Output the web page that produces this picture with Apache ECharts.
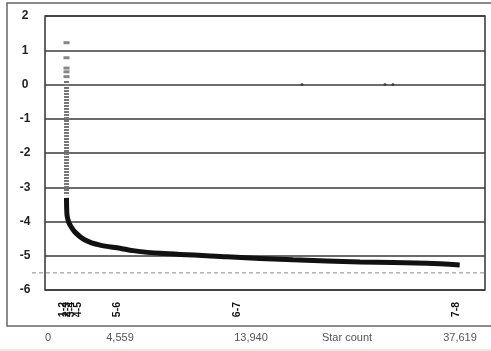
<!DOCTYPE html>
<html><head><meta charset="utf-8">
<script src="https://cdn.jsdelivr.net/npm/echarts@6/dist/echarts.min.js"></script>
<style>html,body{margin:0;padding:0;background:#fff}#c{width:491px;height:351px}</style>
</head><body><div id="c"></div>
<script>
// x unit: star rank position (0..40000 across the plot)
const curveX = [1955, 2000, 2136, 2273, 2727, 3636, 5000, 6818, 8000, 10455, 16545, 22545, 28636, 34727, 37700];
const curveY = [-3.31, -3.81, -4.0, -4.10, -4.31, -4.54, -4.69, -4.78, -4.85, -4.93, -5.03, -5.12, -5.18, -5.22, -5.27];
const sparseX = [1955, 1955, 1955, 1955, 1955];
const sparseY = [1.22, 0.78, 0.48, 0.37, 0.23];
const denseX = [1955, 1955];
const denseY = [0.10, -3.23];
const dotX = [23364, 30909, 31636];
const dotY = [0, 0, 0];
const refLineY = -5.5;
const binLabels = ['0-1', '1-2', '2-3', '3-4', '4-5', '5-6', '6-7', '7-8'];
const binPos = [1273, 1636, 2000, 2364, 3000, 6545, 17455, 37364];
const countLabels = ['0', '4,559', '13,940', 'Star count', '37,619'];
const countPos = [273, 6818, 18727, 27455, 37727];
const yTicks = [-6, -5, -4, -3, -2, -1, 0, 1, 2];

const zip = (a, b) => a.map((v, i) => [v, b[i]]);
const chart = echarts.init(document.getElementById('c'));
const F = 'Liberation Sans, Arial, sans-serif';
chart.setOption({
  animation: false,
  backgroundColor: '#fff',
  graphic: [
    { type: 'rect', shape: { x: 7, y: 3, width: 492, height: 323 }, style: { fill: 'none', stroke: '#666', lineWidth: 1.5 }, z: -1 },
    { type: 'line', shape: { x1: 0, y1: 350, x2: 491, y2: 350 }, style: { stroke: '#f2c4c4', lineWidth: 1 } }
  ],
  grid: [
    { left: 45, right: 6, top: 16, bottom: 61, show: true, borderColor: '#333', borderWidth: 1.5, backgroundColor: 'transparent' },
    { left: 32, right: 6, top: 16, bottom: 61 }
  ],
  xAxis: [
    { gridIndex: 0, type: 'value', min: 0, max: 40000,
      axisLine: { show: false }, axisTick: { show: false }, splitLine: { show: false },
      axisLabel: { customValues: binPos, rotate: 90, margin: 12, hideOverlap: false,
        fontFamily: F, fontSize: 10.5, fontWeight: 'bold', color: '#111',
        formatter: v => binLabels[binPos.indexOf(v)] } },
    { gridIndex: 0, type: 'value', min: 0, max: 40000, position: 'bottom',
      axisLine: { show: false }, axisTick: { show: false }, splitLine: { show: false },
      axisLabel: { customValues: countPos, margin: 42, hideOverlap: false,
        fontFamily: F, fontSize: 11, color: '#555',
        formatter: v => countLabels[countPos.indexOf(v)] } },
    { gridIndex: 1, type: 'value', min: 0, max: 1, show: false }
  ],
  yAxis: [
    { gridIndex: 0, type: 'value', min: -6, max: 2, interval: 1,
      axisLine: { show: false }, axisTick: { show: false },
      splitLine: { show: true, lineStyle: { color: '#3a3a3a', width: 1.5 } },
      axisLabel: { customValues: yTicks, margin: 20, align: 'center', fontFamily: F, fontSize: 12, fontWeight: 'bold', color: '#222' } },
    { gridIndex: 1, type: 'value', min: -6, max: 2, show: false }
  ],
  series: [
    { type: 'line', xAxisIndex: 2, yAxisIndex: 1, data: [[0, refLineY], [1, refLineY]], symbol: 'none',
      lineStyle: { color: '#888', width: 1, type: [4, 3] } },
    { type: 'line', data: zip(denseX, denseY), symbol: 'none',
      lineStyle: { color: '#777', width: 5, type: [2, 1] } },
    { type: 'scatter', data: zip(sparseX, sparseY), symbol: 'rect', symbolSize: [6, 3],
      itemStyle: { color: '#666' } },
    { type: 'line', data: zip(curveX, curveY), symbol: 'none', smooth: 0.3,
      lineStyle: { color: '#111', width: 5 } },
    { type: 'scatter', data: zip(dotX, dotY), symbolSize: 3, itemStyle: { color: '#333' } }
  ]
});
</script></body></html>
